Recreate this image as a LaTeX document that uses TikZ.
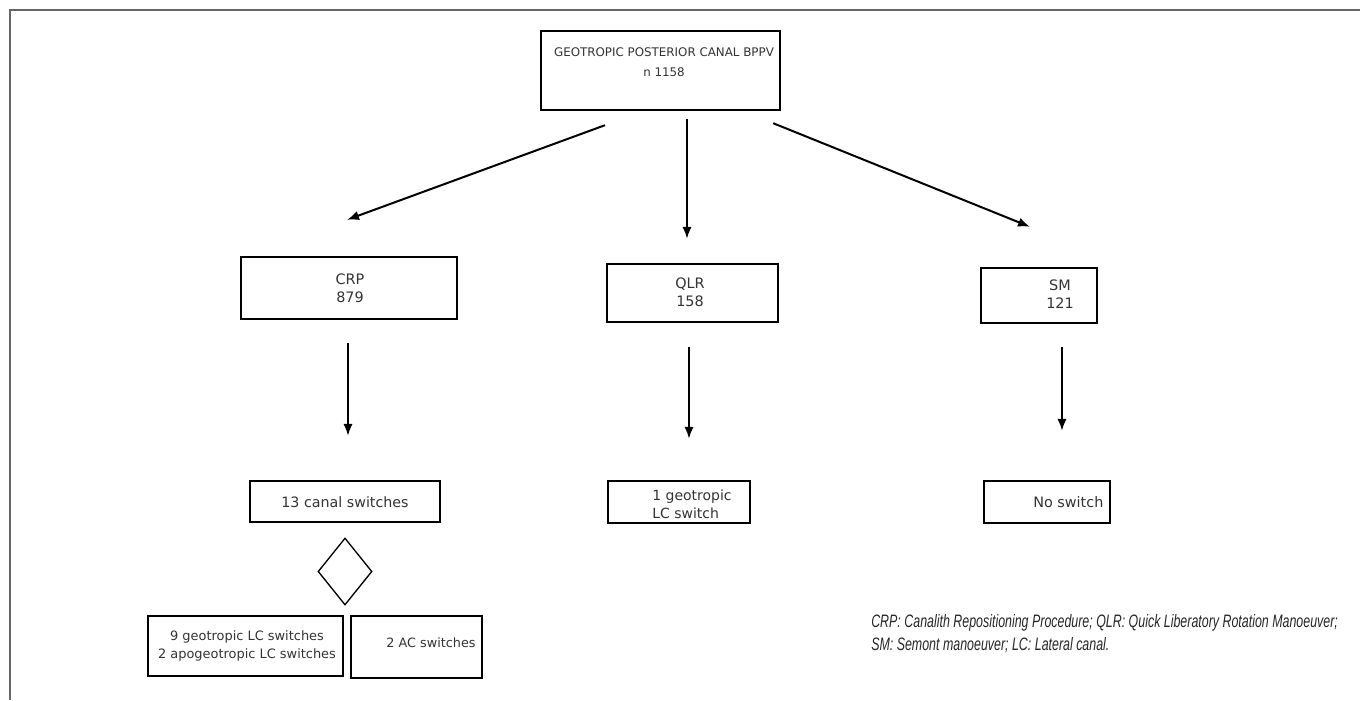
\documentclass[tikz,border=0pt]{standalone}
\usepackage{fontspec}
\usepackage{graphicx}
\setmainfont{DejaVu Sans}
\newfontfamily\notefont{Liberation Sans}
\usetikzlibrary{arrows.meta,shapes.geometric}
\definecolor{txt}{HTML}{333333}
\definecolor{frame}{HTML}{666666}
\tikzset{
  box/.style={draw=black, line width=1.8pt, inner sep=0pt},
  btext/.style={text=txt, font=\fontsize{10.8}{13.5}\selectfont, align=center, inner sep=0pt},
  arr/.style={line width=1.5pt, -{Latex[length=9pt,width=7pt]}},
}
\begin{document}
\begin{tikzpicture}[x=0.75pt,y=-0.75pt]
\useasboundingbox (0,0) rectangle (1360,700);
\draw[frame, line width=1.5pt] (10,700) -- (10,10) -- (1360,10);

% boxes
\node[box, minimum width=179.25pt, minimum height=59.25pt] (top) at (660.5,70.5) {};
\node[btext, font=\fontsize{8.9}{15}\selectfont] (toptext) at (664,62) {GEOTROPIC POSTERIOR CANAL BPPV\\n 1158};

\node[box, minimum width=162pt, minimum height=46.5pt] (crp) at (349,288) {};
\node[btext] (crptext) at (350,288) {CRP\\879};

\node[box, minimum width=128.25pt, minimum height=43.5pt] (qlr) at (692.5,293) {};
\node[btext] (qlrtext) at (690,292.5) {QLR\\158};

\node[box, minimum width=87pt, minimum height=41.25pt] (sm) at (1039,295.5) {};
\node[btext] (smtext) at (1060,294.5) {SM\\121};

\node[box, minimum width=142.5pt, minimum height=30.75pt] (sw) at (345,501.5) {};
\node[btext, font=\fontsize{10.7}{13.5}\selectfont] (swtext) at (345,502) {13 canal switches};

\node[box, minimum width=106.5pt, minimum height=31.5pt] (lc) at (679,502) {};
\node[btext, font=\fontsize{10.5}{13.5}\selectfont, align=left, anchor=west] (lctext) at (652,504) {1 geotropic\\LC switch};

\node[box, minimum width=94.5pt, minimum height=31.5pt] (no) at (1047,502) {};
\node[btext, anchor=west] (notext) at (1033,502) {No switch};

\node[draw=black, line width=1pt, diamond, minimum width=40.5pt, minimum height=50.25pt, inner sep=0pt] (dia) at (345,571.5) {};

\node[box, minimum width=146.25pt, minimum height=45pt] (geo) at (245.5,646) {};
\node[btext, font=\fontsize{9.7}{13.5}\selectfont] (geotext) at (247,646) {9 geotropic LC switches\\2 apogeotropic LC switches};

\node[box, minimum width=98.25pt, minimum height=46.5pt] (ac) at (416.5,647) {};
\node[btext, font=\fontsize{9.6}{13.5}\selectfont] (actext) at (431,643) {2 AC switches};

% arrows
\draw[arr] ([shift={(-55.5,14)}]top.south) -- ([shift={(-2,-36)}]crp.north);
\draw[arr] ([shift={(26.5,8)}]top.south) -- ([shift={(-5.5,-24)}]qlr.north);
\draw[arr] ([shift={(-8,12)}]top.south east) -- ([shift={(-9,-40)}]sm.north);
\draw[arr] ([shift={(-1,23)}]crp.south) -- ([shift={(3,-44)}]sw.north);
\draw[arr] ([shift={(-3.5,24)}]qlr.south) -- ([shift={(10,-41)}]lc.north);
\draw[arr] ([shift={(23,23)}]sm.south) -- ([shift={(15,-49)}]no.north);

% footnote
\node[anchor=north west, inner sep=0pt, text=black!85] (note) at (871,614) {\scalebox{0.69}[1]{\parbox[t]{720pt}{\notefont\itshape\fontsize{13.5}{17.25}\selectfont CRP: Canalith Repositioning Procedure; QLR: Quick Liberatory Rotation Manoeuver;\\SM: Semont manoeuver; LC: Lateral canal.}}};
\end{tikzpicture}
\end{document}
